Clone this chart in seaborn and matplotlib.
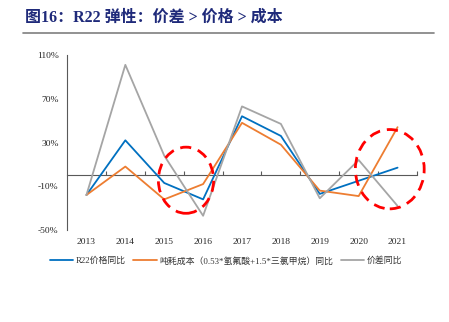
import matplotlib
matplotlib.use("Agg")
import matplotlib.pyplot as plt
import seaborn as sns
import pandas as pd
from matplotlib.patches import Ellipse
from matplotlib.lines import Line2D

years = ["2013", "2014", "2015", "2016", "2017", "2018", "2019", "2020", "2021"]
r22_price = [-18, 32, -7, -22, 54, 36, -17, -5, 7]
unit_cost = [-18, 8, -22, -8, 48, 28, -14, -19, 44]
spread = [-18, 101, 18, -37, 63, 47, -21, 14, -28]
series_names = ["R22价格同比", "吨耗成本（0.53*氢氟酸+1.5*三氯甲烷）同比", "价差同比"]
colors = ["#0070C0", "#ED7D31", "#A5A5A5"]
yticks = [-50, -10, 30, 70, 110]

sns.set_style("white")
plt.rcParams['font.family'] = ['Liberation Serif', 'Noto Sans CJK SC', 'DejaVu Sans']

df = pd.DataFrame({"year": years, series_names[0]: r22_price,
                   series_names[1]: unit_cost, series_names[2]: spread})
long = df.melt(id_vars="year", var_name="series", value_name="value")
long["x"] = long["year"].map({y: i for i, y in enumerate(years)})

fig = plt.figure(figsize=(4.49, 3.22), dpi=100)
ax = fig.add_axes([67/449, 1-230/322, 350/449, 175/322])

sns.lineplot(data=long, x="x", y="value", hue="series", hue_order=series_names,
             palette=colors, ax=ax, linewidth=1.3, legend=False, sort=False)

ax.set_xlim(-0.5, 8.5)
ax.set_ylim(-50, 110)
ax.set_xlabel("")
ax.set_ylabel("")
for s in ["top", "right", "bottom"]:
    ax.spines[s].set_visible(False)
ax.spines["left"].set_color("#595959")
ax.spines["left"].set_linewidth(0.8)
ax.set_yticks(yticks)
ax.set_yticklabels([f"{v}%" for v in yticks], fontsize=6.8, family=['Liberation Serif'])
ax.tick_params(axis="y", direction="out", length=3, width=0.8, color="#595959", pad=3)
ax.set_xticks(range(len(years)))
ax.set_xticklabels(years, fontsize=6.8, family=['Liberation Serif'])
ax.tick_params(axis="x", length=0, pad=6)

# zero axis line with upward ticks at category boundaries
sec = ax.secondary_xaxis(50/160)
sec.set_xticks([i + 0.5 for i in range(len(years))])
sec.set_xticklabels([])
sec.tick_params(direction="in", length=3, width=0.8, color="#595959")
sec.spines["bottom"].set_color("#595959")
sec.spines["bottom"].set_linewidth(0.8)

# red dashed highlight circles
for cx, cy, w, h in [(2.56, -4.5, 1.42, 60.5), (7.80, 5.6, 1.77, 72.5)]:
    ax.add_patch(Ellipse((cx, cy), w, h, fill=False, edgecolor="#FF0000",
                         linestyle=(0, (4, 2.5)), linewidth=2.0, zorder=5,
                         clip_on=False))

handles = [Line2D([0], [0], color=c, lw=1.3) for c in colors]
fig.legend(handles, series_names, loc="center", bbox_to_anchor=(226/449, 1-261/322),
           ncol=3, frameon=False, handlelength=2.6, handletextpad=0.3,
           columnspacing=0.9, labelcolor="#333333",
           prop={'family': ['Liberation Serif', 'Noto Sans CJK SC'], 'size': 6.4})

fig.text(25/449, 1-18/322, "图16：R22 弹性：价差 > 价格 > 成本", fontsize=11.5,
         fontweight="bold", color="#1F2A7A", va="center", ha="left",
         family=['Liberation Serif', 'Noto Sans CJK SC'])
fig.add_artist(Line2D([23/449, 434/449], [1-33/322, 1-33/322], color="#7F7F7F",
                      lw=1.2, transform=fig.transFigure))

fig.savefig("out.png", dpi=100)
